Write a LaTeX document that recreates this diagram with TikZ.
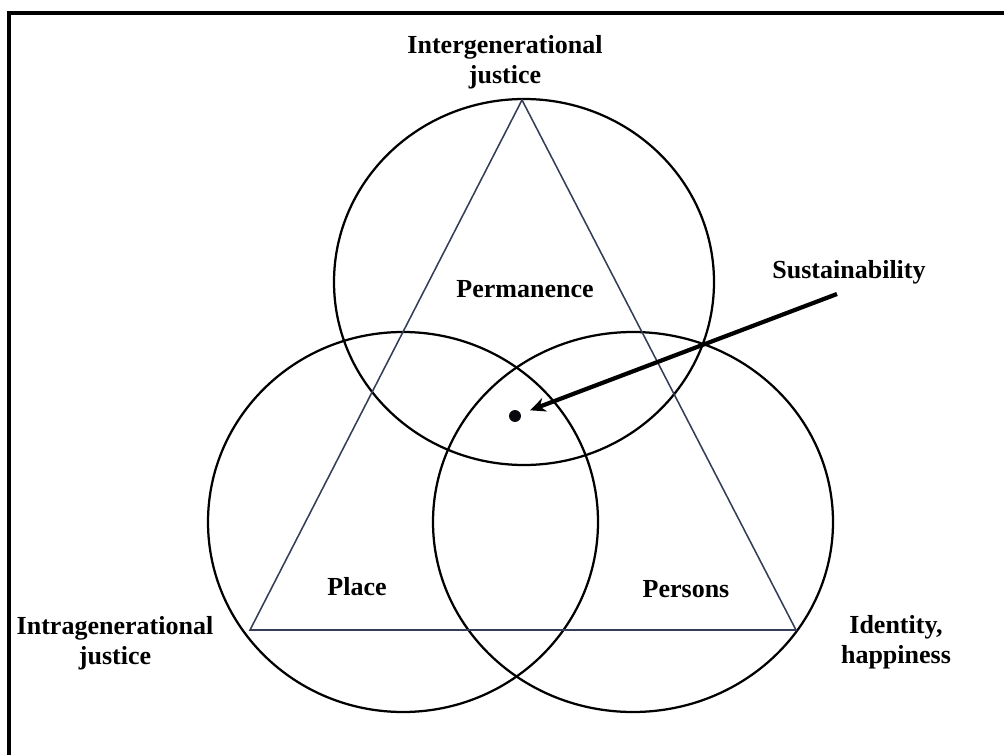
\documentclass[tikz,border=0pt]{standalone}
\usepackage{fontspec}
\setmainfont{Liberation Serif}
\usepackage{tikz}
\usetikzlibrary{arrows.meta, positioning}
\definecolor{triBlue}{RGB}{52, 62, 88}

\begin{document}
\begin{tikzpicture}[x=0.025cm, y=-0.025cm, >=Stealth,
  lbl/.style={align=center, inner sep=0pt, font=\fontsize{18.5}{21}\selectfont\bfseries},
  ring/.style={draw=black, line width=1.6pt},
  tri/.style={draw=triBlue, line width=1.1pt, line join=miter}]

  \useasboundingbox (0,0) rectangle (1004,755);
  % frame (top and left edge only)
  \draw[line width=2.2pt] (9,755) -- (9,13) -- (1004,13);

  % the three circles
  \draw[ring] (524,282) ellipse [x radius=190, y radius=183];
  \draw[ring] (403,522) ellipse [x radius=195, y radius=190];
  \draw[ring] (633,522) ellipse [x radius=200, y radius=190];

  % triangle
  \coordinate (apex) at (522,100);
  \coordinate (lcorner) at (250,630);
  \coordinate (rcorner) at (796,630);
  \draw[tri] (apex) -- (lcorner) -- (rcorner) -- cycle;

  % corner labels
  \node[lbl] (inter) at (505,62) {Intergenerational\\justice};
  \node[lbl] (intra) at (115,643) {Intragenerational\\justice};
  \node[lbl] (ident) at (896,642) {Identity,\\happiness};

  % circle labels
  \node[lbl] (perm) at (525,289) {Permanence};
  \node[lbl] (place) at (357,587) {Place};
  \node[lbl] (pers) at (686,589) {Persons};

  % sustainability point
  \node[circle, fill=black!85!triBlue, inner sep=0pt, minimum size=8.5pt] (dot) at (515,416) {};
  \node[lbl] (sust) at (849,272) {Sustainability};
  \coordinate (sustail) at (837,294);
  \draw[->, line width=3pt, shorten >=7pt, -{Stealth[length=11pt, width=10pt]}] (sustail) -- (dot);

\end{tikzpicture}
\end{document}
